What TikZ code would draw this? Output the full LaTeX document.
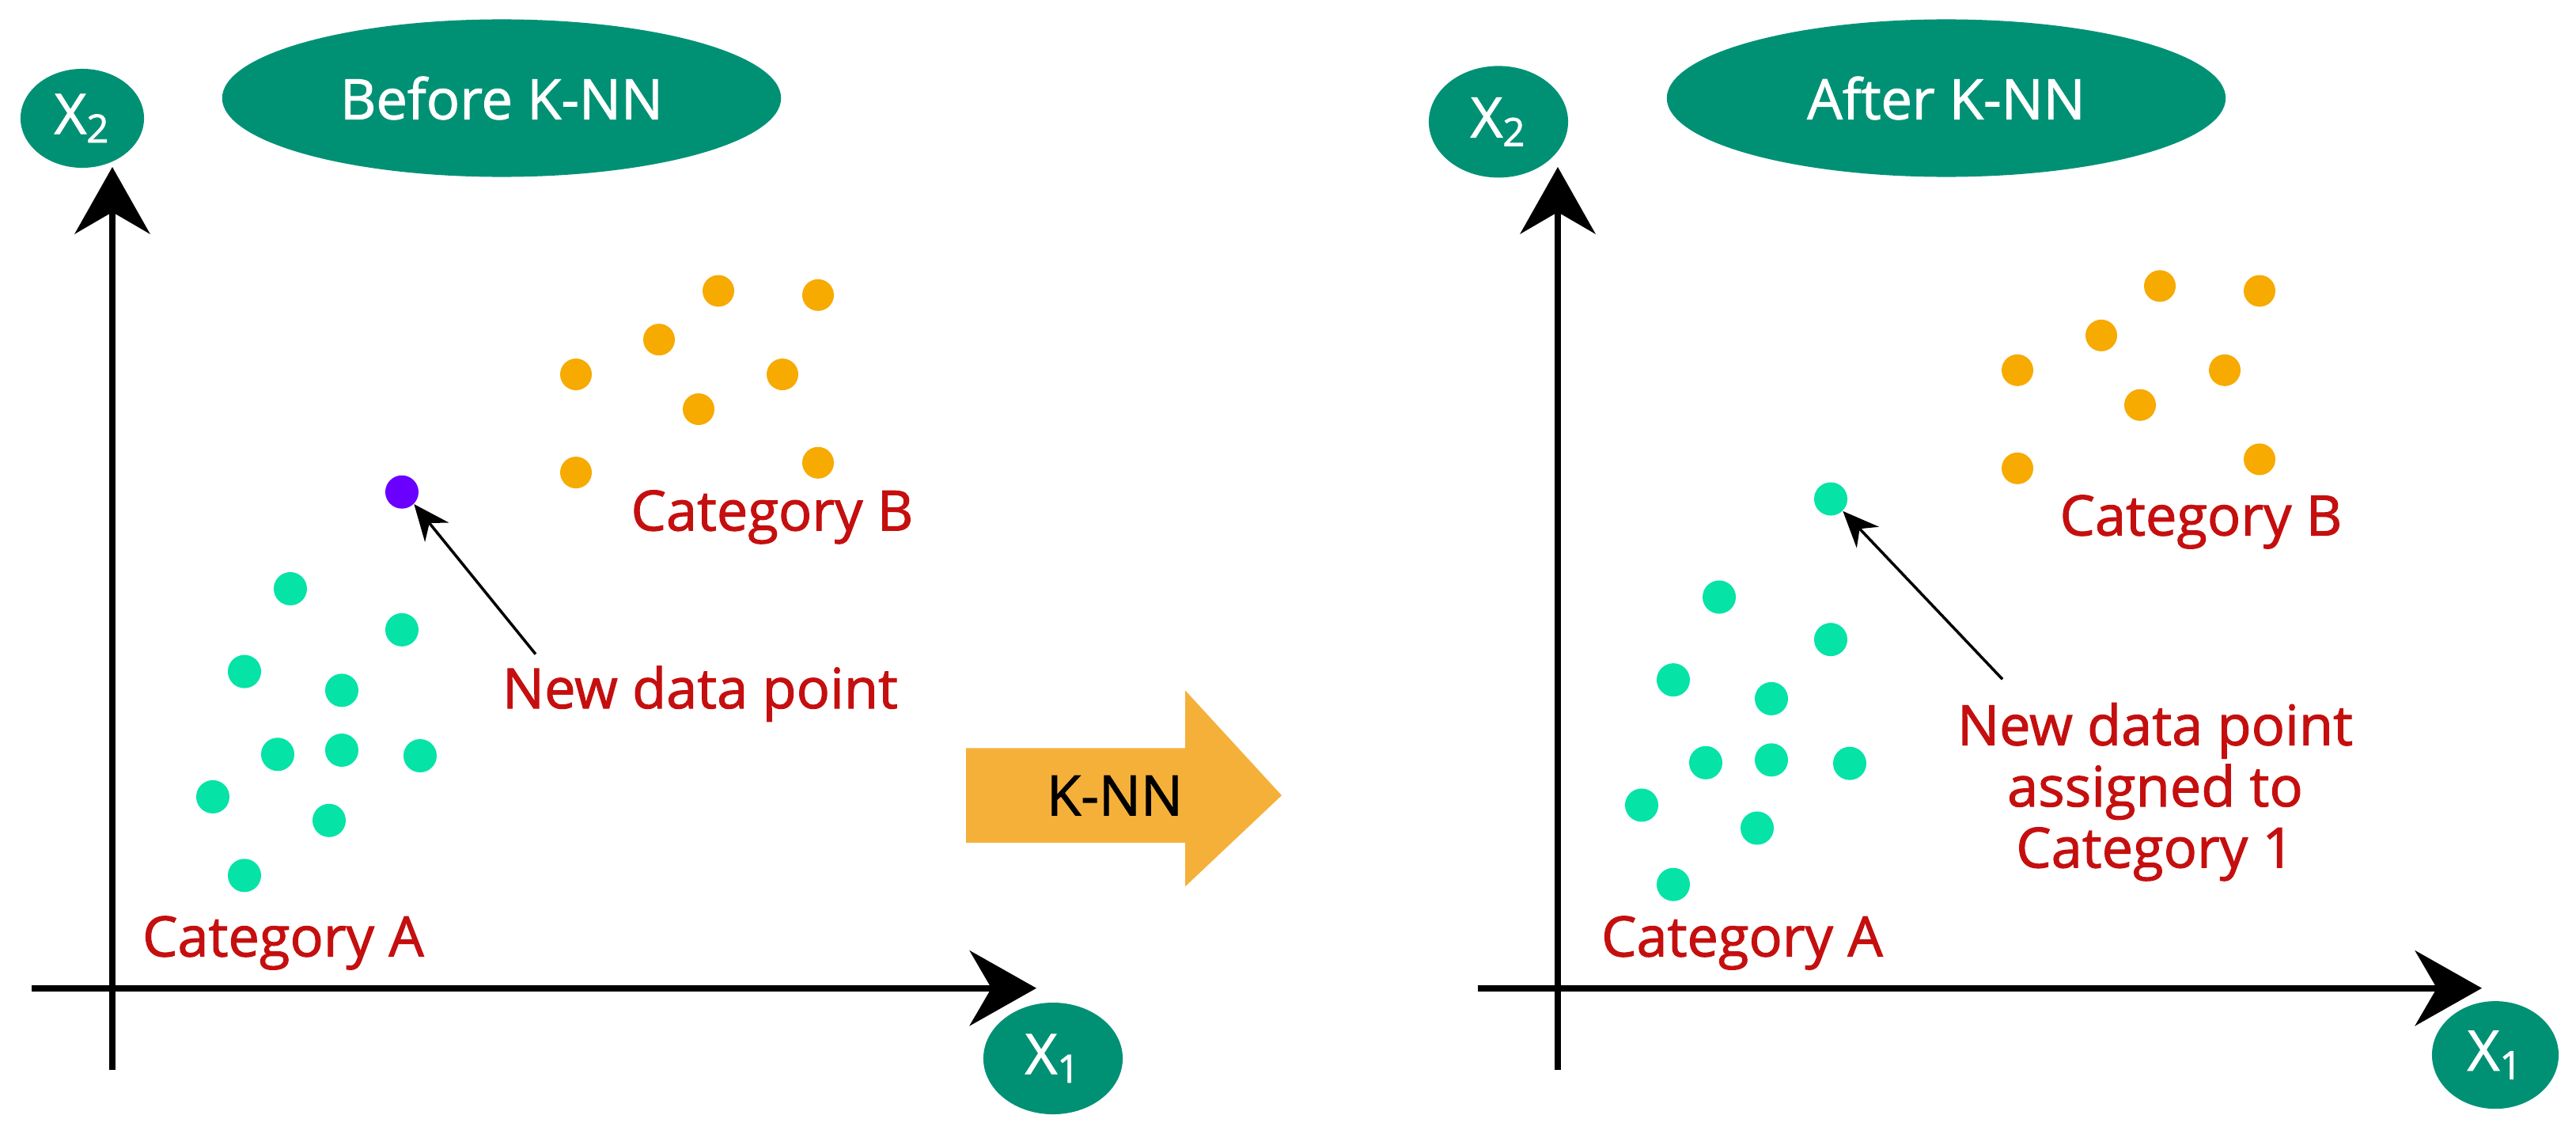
\documentclass[tikz,border=0pt]{standalone}
\usepackage{fontspec}
\setmainfont{Open Sans}[UprightFeatures={FakeBold=1.5}]
\usetikzlibrary{arrows.meta,shapes.geometric}
\definecolor{teal1}{HTML}{009175}
\definecolor{grn}{HTML}{05E3A6}
\definecolor{org}{HTML}{F7AA00}
\definecolor{redt}{HTML}{C50F0F}
\definecolor{purp}{HTML}{6A00FF}
\definecolor{kor}{HTML}{F5B03A}
\begin{document}
\begin{tikzpicture}[x=0.01cm,y=-0.00879cm,
  lbl/.style={ellipse,fill=teal1,text=white,inner sep=0pt,font=\fontsize{20pt}{22pt}\selectfont},
  axis/.style={line width=2.2pt,-{Stealth[length=24pt,width=27pt]}},
  dotg/.style={circle,fill=grn,inner sep=0pt,minimum size=0.42cm},
  doto/.style={circle,fill=org,inner sep=0pt,minimum size=0.40cm},
  cat/.style={text=redt,font=\fontsize{20pt}{24pt}\selectfont,align=center},
  ptr/.style={line width=1pt,-{Stealth[length=13pt,width=11pt]}}]
\useasboundingbox (0,0) rectangle (3256,1629);
% ---------- left panel ----------
\node[lbl,minimum width=7.06cm,minimum height=1.99cm] (tl) at (634,141) {Before K-NN};
\node[lbl,minimum width=1.56cm,minimum height=1.25cm] (x2l) at (104,170) {X\textsubscript{2}};
\node[lbl,minimum width=1.76cm,minimum height=1.41cm] (x1l) at (1331,1521) {X\textsubscript{1}};
\coordinate (oyl) at (142,1537); \coordinate (tyl) at (142,240);
\coordinate (oxl) at (40,1420); \coordinate (txl) at (1310,1420);
\draw[axis] (oyl) -- (tyl);
\draw[axis] (oxl) -- (txl);
\foreach \x/\y [count=\i] in {908/418,1034/424,833/488,728/538,989/538,883/588,728/679,1034/665}
  \node[doto] (lo\i) at (\x,\y) {};
\foreach \x/\y [count=\i] in {367/846,508/905,309/965,432/992,351/1084,432/1078,531/1086,269/1145,416/1179,309/1258}
  \node[dotg] (lg\i) at (\x,\y) {};
\node[circle,fill=purp,inner sep=0pt,minimum size=0.42cm] (np) at (508,707) {};
\node[cat] (cbl) at (976,743) {Category B};
\node[cat] (cal) at (358,1355) {Category A};
\node[cat] (ndl) at (885,997) {New data point};
\coordinate (al) at (677,940);
\draw[ptr] (al) -- (np.south east);
% ---------- K-NN arrow ----------
\fill[kor] (1221,1075) -- (1498,1075) -- (1498,992) -- (1620,1143) -- (1498,1274) -- (1498,1211) -- (1221,1211) -- cycle;
\node[font=\fontsize{20pt}{22pt}\selectfont] (knn) at (1409,1143) {K-NN};
% ---------- right panel ----------
\node[lbl,minimum width=7.06cm,minimum height=1.99cm] (tr) at (2460,141) {After K-NN};
\node[lbl,minimum width=1.76cm,minimum height=1.41cm] (x2r) at (1894,175) {X\textsubscript{2}};
\node[lbl,minimum width=1.60cm,minimum height=1.36cm] (x1r) at (3154,1516) {X\textsubscript{1}};
\coordinate (oyr) at (1969,1537); \coordinate (tyr) at (1969,240);
\coordinate (oxr) at (1868,1420); \coordinate (txr) at (3137,1420);
\draw[axis] (oyr) -- (tyr);
\draw[axis] (oxr) -- (txr);
\foreach \x/\y [count=\i] in {2730/411,2856/418,2656/482,2550/532,2812/532,2705/582,2550/673,2856/660}
  \node[doto] (ro\i) at (\x,\y) {};
\foreach \x/\y [count=\i] in {2173/858,2314/919,2115/977,2239/1004,2156/1096,2239/1092,2338/1097,2075/1157,2221/1190,2115/1271}
  \node[dotg] (rg\i) at (\x,\y) {};
\node[dotg] (nr) at (2314,717) {};
\node[cat] (cbr) at (2782,750) {Category B};
\node[cat] (car) at (2202,1355) {Category A};
\node[cat] (ndr) at (2724,1138) {New data point\\[-2pt]assigned to\\[-2pt]Category 1};
\coordinate (ar) at (2531,976);
\draw[ptr] (ar) -- (nr.south east);
\end{tikzpicture}
\end{document}
